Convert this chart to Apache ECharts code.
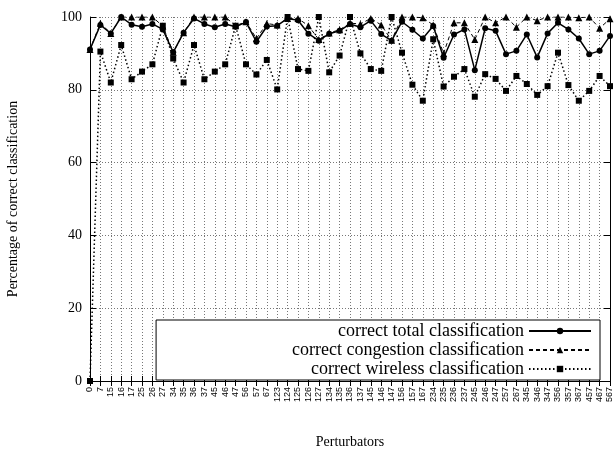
<!DOCTYPE html>
<html>
<head>
<meta charset="utf-8">
<script src="https://cdn.jsdelivr.net/npm/echarts@6/dist/echarts.min.js"></script>
<style>html,body{margin:0;padding:0;background:#fff;}#c{width:615px;height:450px;}</style>
</head>
<body>
<div id="c"></div>
<script>
var categories = ['0','7','15','16','17','25','26','27','34','35','36','37','45','46','47','56','57','67','123','124','125','126','127','134','135','136','137','145','146','147','156','157','167','234','235','236','237','245','246','247','257','267','345','346','347','356','357','367','457','467','567'];
var totalValues = [91.1,97.8,95.5,100,97.9,97.3,98.1,96.6,90.3,95.7,99.6,98.1,97.2,98.1,97.3,98.6,93.2,97.4,97.6,99.6,99.1,95.4,93.5,95.4,96.2,98.1,97.2,99.0,95.3,93.5,98.7,96.5,94.1,97.5,88.8,95.2,96.6,85.4,96.9,96.2,89.8,90.7,95.2,88.9,95.5,98.4,96.6,94.1,89.8,90.7,94.8];
var congestionValues = [91.1,98.3,95.5,100,100,100,100,97.5,90.3,95.7,100,100,100,100,97.6,98.7,94.1,98.2,97.8,99.6,99.6,97.6,93.8,95.6,96.5,98.3,98.1,99.6,97.8,93.6,100,100,99.8,97.8,90.0,98.4,98.4,93.8,100,98.4,100,97.2,100,99.0,100,100,100,99.8,100,96.9,99.5];
var wirelessValues = [0,90.5,82.0,92.3,82.9,85.0,87.0,97.6,88.6,82.0,92.3,82.9,85.0,87.0,97.6,87.0,84.2,88.2,80.1,100,85.7,85.2,100,84.8,89.4,100,90.0,85.7,85.2,100,90.2,81.4,77.0,93.9,80.9,83.6,85.7,78.1,84.3,83.0,79.7,83.8,81.6,78.6,81.0,90.2,81.3,77.0,79.7,83.8,81.0];
var yTicks = [0,20,40,60,80,100];
var seriesNames = ['correct total classification','correct congestion classification','correct wireless classification'];

var serif = '"Liberation Serif","DejaVu Serif",serif';
var chart = echarts.init(document.getElementById('c'));
chart.setOption({
  animation: false,
  backgroundColor: '#fff',
  grid: {left: 90, right: 5, top: 17, bottom: 69, containLabel: false, outerBoundsMode: 'none'},
  xAxis: [{
    type: 'category', data: categories, boundaryGap: false, position: 'bottom',
    name: 'Perturbators', nameLocation: 'middle', nameGap: 54,
    nameTextStyle: {fontFamily: serif, fontSize: 14, color: '#000'},
    axisLine: {show: true, lineStyle: {color: '#000', width: 1}},
    axisTick: {show: true, inside: true, length: 5, interval: 0, lineStyle: {color: '#000'}},
    axisLabel: {interval: 0, rotate: 90, fontFamily: '"Liberation Sans",Arial,sans-serif', fontSize: 9, color: '#000', margin: 6},
    splitLine: {show: true, interval: 0, lineStyle: {color: '#777', type: [1, 2], width: 1}}
  }, {
    type: 'category', data: categories, boundaryGap: false, position: 'top',
    axisLine: {show: true, lineStyle: {color: '#000', width: 1}},
    axisTick: {show: true, inside: true, length: 5, interval: 0, lineStyle: {color: '#000'}},
    axisLabel: {show: false}, splitLine: {show: false}
  }],
  yAxis: [{
    type: 'value', min: 0, max: 100, interval: 20,
    name: 'Percentage of correct classification', nameLocation: 'middle', nameGap: 70,
    nameTextStyle: {fontFamily: serif, fontSize: 14, color: '#000'},
    axisLine: {show: true, lineStyle: {color: '#000', width: 1}},
    axisTick: {show: true, inside: true, length: 6, lineStyle: {color: '#000'}},
    axisLabel: {fontFamily: serif, fontSize: 14, color: '#000', margin: 8,
      formatter: function (v) { return yTicks.indexOf(v) >= 0 ? String(v) : ''; }},
    splitLine: {show: true, lineStyle: {color: '#777', type: [1, 2], width: 1}}
  }, {
    type: 'value', min: 0, max: 100, interval: 20, position: 'right',
    axisLine: {show: true, lineStyle: {color: '#000', width: 1}},
    axisTick: {show: true, inside: true, length: 6, lineStyle: {color: '#000'}},
    axisLabel: {show: false}, splitLine: {show: false}
  }],
  legend: {
    orient: 'vertical', right: 15, top: 320, align: 'right',
    itemWidth: 62, itemHeight: 8, itemGap: 1,
    padding: [2, 8, 2, 136],
    borderColor: '#000', borderWidth: 1, backgroundColor: '#fff',
    textStyle: {fontFamily: serif, fontSize: 18, color: '#000'},
    data: seriesNames
  },
  series: [{
    name: seriesNames[0], type: 'line', data: totalValues,
    symbol: 'circle', symbolSize: 6, z: 4,
    lineStyle: {color: '#000', width: 1.5, type: 'solid'},
    itemStyle: {color: '#000'}
  }, {
    name: seriesNames[1], type: 'line', data: congestionValues,
    symbol: 'triangle', symbolSize: 7, z: 3,
    lineStyle: {color: '#000', width: 1, type: [4, 3]},
    itemStyle: {color: '#000'}
  }, {
    name: seriesNames[2], type: 'line', data: wirelessValues,
    symbol: 'rect', symbolSize: 6, z: 3,
    lineStyle: {color: '#000', width: 1.5, type: [1.5, 2.5]},
    itemStyle: {color: '#000'}
  }]
});
</script>
</body>
</html>
